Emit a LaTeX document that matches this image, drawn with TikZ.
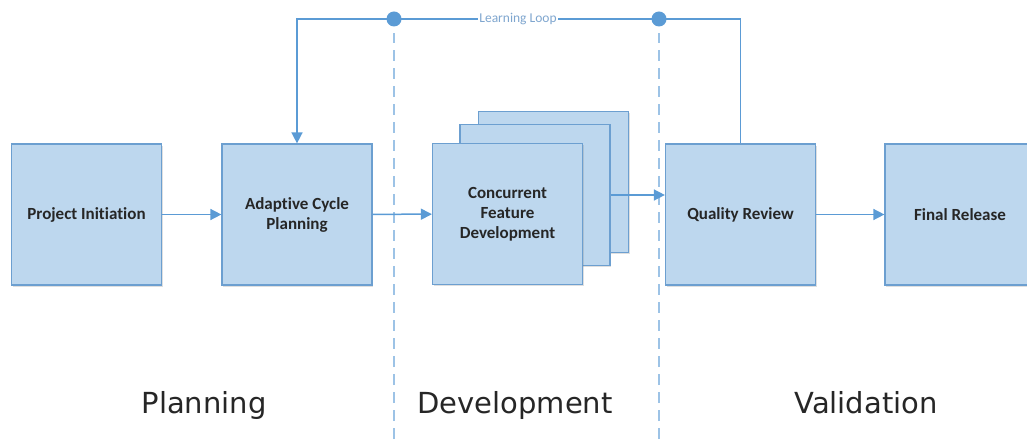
\documentclass[tikz,border=0pt]{standalone}
\usepackage{fontspec}
\setmainfont{Carlito}[Ligatures=NoCommon]
\newfontfamily\phasefont{DejaVu Sans}
\usetikzlibrary{arrows.meta,shadows}

\definecolor{boxfill}{HTML}{BDD7EE}
\definecolor{boxline}{HTML}{6C9FD0}
\definecolor{flowblue}{HTML}{5B9BD5}
\definecolor{phaseline}{HTML}{9DC3E6}
\definecolor{looptext}{HTML}{7FA6CF}

\def\boxw{150pt}
\def\boxh{141pt}

\tikzset{
  stage/.style={draw=boxline, line width=1.2pt, fill=boxfill,
    minimum width=\boxw, minimum height=\boxh, inner sep=4pt, align=center,
    font=\bfseries\fontsize{17}{20}\selectfont, text=black!85,
    drop shadow={opacity=0.25, shadow xshift=1pt, shadow yshift=-2pt}},
  flow/.style={flowblue, line width=1.5pt, -{Triangle[length=11pt, width=11pt]}},
  loopline/.style={flowblue, line width=1.5pt},
  phase/.style={phaseline, line width=2pt, dash pattern=on 11pt off 7pt},
  dot/.style={circle, fill=flowblue, inner sep=0pt, minimum size=15pt},
  phasename/.style={anchor=base, text=black!85, font=\phasefont\fontsize{29}{34}\selectfont},
}

\begin{document}
\begin{tikzpicture}[x=1pt, y=1pt]
      \useasboundingbox (0,0) rectangle (1027,439);
      \clip (0,0) rectangle (1027,439);

      \draw[phase] (394,0) -- (394,406);
      \draw[phase] (659,0) -- (659,406);

      \node[stage] (init) at (86.5, 224.5) {Project Initiation};
      \node[stage] (plan) at (297, 224.5) {Adaptive Cycle\\Planning};
      \node[stage] (devback) at (553.5, 257) {};
      \node[stage] (devmid) at (535, 244) {};
      \node[stage] (dev) at (507.5, 225) {Concurrent\\Feature\\Development};
      \node[stage] (review) at (740.5, 224.5) {Quality Review};
      \node[stage] (release) at (960, 224.5) {Final Release};

      \draw[flow] (init) -- (plan);
      \draw[flow] (plan) -- (dev);
      \draw[flow] (devmid.east) -- (devmid.east -| review.west);
      \draw[flow] (review) -- (release);

      \node[dot] (loopR) at (659, 420) {};
      \node[dot] (loopL) at (394, 420) {};
      \draw[loopline] (review.north) |- (loopR.center) -- (loopL.center);
      \draw[flow] (loopL.center) -| (plan.north);
      \node[fill=white, inner sep=1.5pt, text=looptext, font=\fontsize{13.5}{16}\selectfont] (looplabel) at (518, 420) {Learning Loop};

      \node[phasename] (planning) at (204, 26) {Planning};
      \node[phasename] (development) at (515, 26) {Development};
      \node[phasename] (validation) at (866, 26) {Validation};
    \end{tikzpicture}
\end{document}
